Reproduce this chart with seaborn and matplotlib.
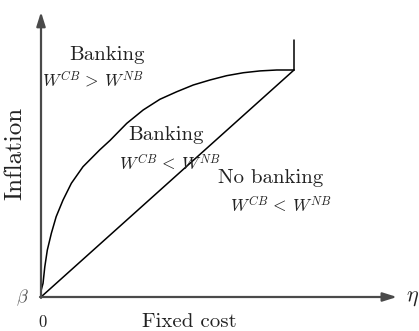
import matplotlib
matplotlib.use("Agg")
import matplotlib.pyplot as plt
import seaborn as sns
import pandas as pd

sns.set_theme(style="white")
plt.rcParams["mathtext.fontset"] = "cm"
plt.rcParams["font.family"] = ["cmr10", "DejaVu Serif"]
plt.rcParams["axes.unicode_minus"] = False

# Threshold curve between the two banking regions (fixed cost vs inflation)
curve_cost = [0.0, 0.001, 0.008, 0.015, 0.025, 0.041, 0.060, 0.087, 0.120,
              0.166, 0.232, 0.273, 0.339, 0.404, 0.470, 0.536, 0.602, 0.668,
              0.734, 0.800, 0.866, 0.932, 1.0]
curve_infl = [0.0, 0.031, 0.060, 0.133, 0.207, 0.281, 0.354, 0.427, 0.501,
              0.574, 0.648, 0.690, 0.765, 0.824, 0.871, 0.904, 0.934, 0.956,
              0.975, 0.988, 0.996, 1.0, 1.0]

# Straight boundary to the no-banking region
line_cost = [0.0, 1.0]
line_infl = [0.0, 1.0]

# Vertical segment above the kink
vert_cost = [1.0, 1.0]
vert_infl = [1.0, 1.132]

region_labels = ["Banking", r"$W^{CB}\,>\,W^{NB}$", "Banking", r"$W^{CB}\,<\,W^{NB}$",
                 "No banking", r"$W^{CB}\,<\,W^{NB}$"]
region_x = [0.26, 0.205, 0.494, 0.51, 0.909, 0.949]
region_y = [1.066, 0.956, 0.714, 0.590, 0.525, 0.405]
region_size = [15, 12.5, 15, 12.5, 15, 12.5]

fig = plt.figure(figsize=(4.19, 3.31), dpi=100)
ax = fig.add_axes([0, 0, 1, 1])

for xs, ys in [(curve_cost, curve_infl), (line_cost, line_infl), (vert_cost, vert_infl)]:
    df = pd.DataFrame({"cost": xs, "inflation": ys})
    sns.lineplot(data=df, x="cost", y="inflation", sort=False, estimator=None,
                 color="black", linewidth=1.1, ax=ax)

axis_color = "#4a4a4a"
arrow = dict(arrowstyle="-|>,head_length=0.7,head_width=0.22", color=axis_color,
             lw=1.6, shrinkA=0, shrinkB=0)
ax.annotate("", xy=(0, 1.256), xytext=(0, -0.004), arrowprops=arrow)
ax.annotate("", xy=(1.407, 0), xytext=(-0.004, 0), arrowprops=arrow)

for txt, x, y, s in zip(region_labels, region_x, region_y, region_size):
    ax.text(x, y, txt, ha="center", va="center", fontsize=s, color="#222222")

ax.text(-0.103, 0.634, "Inflation", rotation=90, ha="center", va="center",
        fontsize=18, color="#222222")
ax.text(0.585, -0.110, "Fixed cost", ha="center", va="center", fontsize=15,
        color="#222222")
ax.text(0.004, -0.110, "0", ha="center", va="center", fontsize=12, color="#222222")
ax.text(-0.075, -0.004, r"$\beta$", ha="center", va="center", fontsize=13,
        color="#555555")
ax.text(1.47, -0.004, r"$\eta$", ha="center", va="center", fontsize=16,
        color="#222222")

ax.set_xlim(-41 / 253, (419 - 41) / 253)
ax.set_ylim(-34 / 227, 297 / 227)
ax.axis("off")

fig.savefig("out.png", dpi=100)
